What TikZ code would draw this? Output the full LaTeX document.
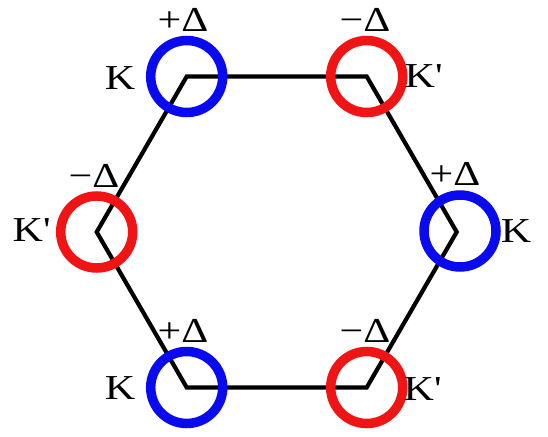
\documentclass[tikz,border=0pt]{standalone}
\usepackage{fontspec}
\setmainfont{Liberation Serif}[FakeStretch=1.2]
\definecolor{ringblue}{RGB}{10,10,240}
\definecolor{ringred}{RGB}{240,20,20}
\begin{document}
\begin{tikzpicture}[x=1pt,y=-1pt,
  ring/.style={circle,draw,line width=9.5pt,minimum size=72pt,inner sep=0pt},
  kring/.style={ring,draw=ringblue},
  kpring/.style={ring,draw=ringred},
  lbl/.style={font=\fontsize{35}{35}\selectfont,inner sep=0pt},
  edge/.style={line width=4.2pt,line join=miter}]
\useasboundingbox (0,0) rectangle (548,436);
\coordinate (v1) at (186.7,76.5);
\coordinate (v2) at (366.7,76.5);
\coordinate (v3) at (456.7,232);
\coordinate (v4) at (366.7,387.5);
\coordinate (v5) at (186.7,387.5);
\coordinate (v6) at (96.7,232);
\draw[edge] (v1) -- (v2) -- (v3) -- (v4) -- (v5) -- (v6) -- cycle;
\node[kring]  (c1) at (v1) {};
\node[kpring] (c2) at (v2) {};
\node[kring]  (c3) at (460,231) {};
\node[kpring] (c4) at (v4) {};
\node[kring]  (c5) at (v5) {};
\node[kpring] (c6) at (v6) {};
\node[lbl] (d1) at (183,20) {+Δ};
\node[lbl] (k1) at (120,78) {K};
\node[lbl] (d2) at (365,20) {−Δ};
\node[lbl] (k2) at (423,76) {K\textquotesingle};
\node[lbl] (d3) at (455,174) {+Δ};
\node[lbl] (k3) at (516,231) {K};
\node[lbl] (d4) at (365,331) {−Δ};
\node[lbl] (k4) at (422,389) {K\textquotesingle};
\node[lbl] (d5) at (183,331) {+Δ};
\node[lbl] (k5) at (120,388) {K};
\node[lbl] (d6) at (94,176) {−Δ};
\node[lbl] (k6) at (31,230) {K\textquotesingle};
\end{tikzpicture}
\end{document}
